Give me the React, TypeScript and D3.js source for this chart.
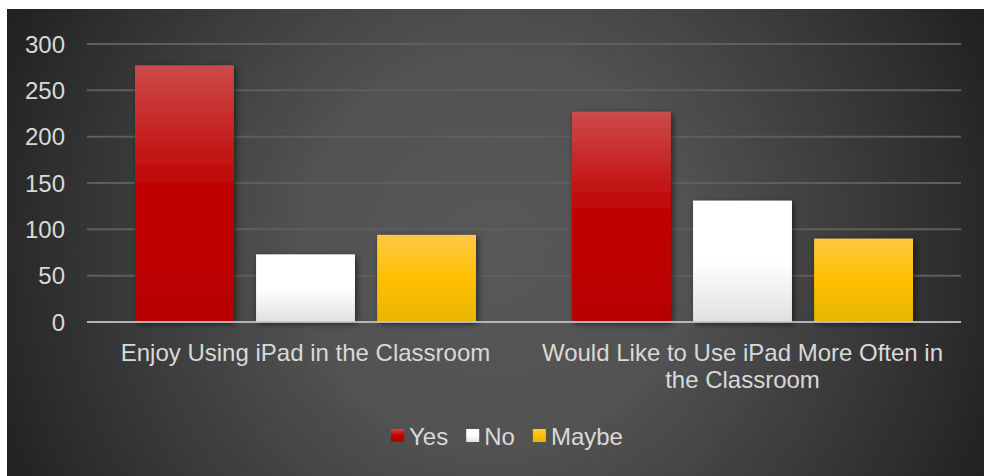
import React from "react";
import * as d3 from "d3";

const categories = ["Enjoy Using iPad in the Classroom", "Would Like to Use iPad More Often in the Classroom"];
const seriesNames = ["Yes", "No", "Maybe"];
const yesValues = [277, 227];
const noValues = [73, 131];
const maybeValues = [94, 90];
const yTicks = [0, 50, 100, 150, 200, 250, 300];

const W = 985;
const H = 476;
const FONT = "'Liberation Sans', Arial, sans-serif";
const FS = 24;

function measure(text: string, size = FS): number {
  const c = document.createElement("canvas").getContext("2d");
  if (!c) return text.length * size * 0.5;
  c.font = `${size}px 'Liberation Sans', Arial, sans-serif`;
  return c.measureText(text).width;
}

function wrap(text: string, maxW: number): string[] {
  const words = text.split(" ");
  const lines: string[] = [];
  let cur = "";
  for (const w of words) {
    const t = cur ? cur + " " + w : w;
    if (measure(t) > maxW && cur) {
      lines.push(cur);
      cur = w;
    } else cur = t;
  }
  if (cur) lines.push(cur);
  return lines;
}

export default function App() {
  const seriesValues = [yesValues, noValues, maybeValues];
  const x0 = d3.scaleBand<string>().domain(categories).range([87, 961]).padding(0);
  const x1 = d3
    .scaleBand<string>()
    .domain(seriesNames)
    .range([48, x0.bandwidth() - 48])
    .paddingInner(0.183)
    .paddingOuter(0);
  const y = d3.scaleLinear().domain([0, 300]).range([322, 44]);
  const fills = ["url(#gRed)", "url(#gWhite)", "url(#gYellow)"];

  // legend layout
  const sq = 13;
  const textGap = 5;
  const items = seriesNames.map((n) => ({ n, w: sq + textGap + measure(n) }));
  const gap = 18;
  const totalW = items.reduce((a, b) => a + b.w, 0) + gap * (items.length - 1);
  let lx = 507 - totalW / 2;
  const legendPos = items.map((it) => {
    const p = lx;
    lx += it.w + gap;
    return p;
  });

  return (
    <svg
      width={W}
      height={H}
      style={{ position: "absolute", left: 0, top: 0, display: "block" }}
      fontFamily={FONT}
    >
      <defs>
        <radialGradient id="bg" gradientUnits="userSpaceOnUse" cx={495} cy={250} r={560}>
          <stop offset="0" stopColor="#585858" />
          <stop offset="0.35" stopColor="#525252" />
          <stop offset="0.75" stopColor="#333333" />
          <stop offset="1" stopColor="#1e1e1e" />
        </radialGradient>
        <linearGradient id="gRed" x1="0" y1="0" x2="0" y2="1">
          <stop offset="0" stopColor="#cd4a4a" />
          <stop offset="0.5" stopColor="#c00000" />
          <stop offset="1" stopColor="#b80000" />
        </linearGradient>
        <linearGradient id="gWhite" x1="0" y1="0" x2="0" y2="1">
          <stop offset="0" stopColor="#ffffff" />
          <stop offset="0.5" stopColor="#ffffff" />
          <stop offset="1" stopColor="#e0e0e0" />
        </linearGradient>
        <linearGradient id="gYellow" x1="0" y1="0" x2="0" y2="1">
          <stop offset="0" stopColor="#ffc846" />
          <stop offset="0.5" stopColor="#ffc000" />
          <stop offset="1" stopColor="#e6b400" />
        </linearGradient>
        <filter id="shadow" x="-20%" y="-20%" width="140%" height="140%">
          <feDropShadow dx="2" dy="2" stdDeviation="3" floodColor="#000" floodOpacity="0.55" />
        </filter>
      </defs>
      <rect x={7} y={9} width={977} height={H - 9} fill="url(#bg)" />
      {yTicks.map((t) => (
        <g key={t}>
          {t !== 0 && (
            <line x1={87} x2={961} y1={y(t)} y2={y(t)} stroke="#5e5e5e" strokeWidth={2} />
          )}
          <text
            x={65}
            y={y(t)}
            textAnchor="end"
            dominantBaseline="central"
            fontSize={FS}
            fill="#d9d9d9"
          >
            {t}
          </text>
        </g>
      ))}
      {categories.map((c, ci) => (
        <g key={c} transform={`translate(${x0(c)},0)`}>
          {seriesNames.map((s, si) => {
            const v = seriesValues[si][ci];
            return (
              <rect
                key={s}
                x={x1(s)}
                y={y(v)}
                width={x1.bandwidth()}
                height={y(0) - y(v)}
                fill={fills[si]}
                filter="url(#shadow)"
              />
            );
          })}
        </g>
      ))}
      <line x1={87} x2={961} y1={y(0)} y2={y(0)} stroke="#c8c8c8" strokeOpacity={0.85} strokeWidth={2} />
      {categories.map((c) => {
        const lines = wrap(c, x0.bandwidth() - 20);
        const cx = (x0(c) as number) + x0.bandwidth() / 2;
        return (
          <text key={c} textAnchor="middle" fontSize={FS} fill="#d9d9d9">
            {lines.map((l, i) => (
              <tspan key={i} x={cx} y={352 + i * 27} dominantBaseline="central">
                {l}
              </tspan>
            ))}
          </text>
        );
      })}
      {seriesNames.map((n, i) => (
        <g key={n} transform={`translate(${legendPos[i]},0)`}>
          <rect x={0} y={429} width={sq} height={sq} fill={fills[i]} />
          <text x={sq + textGap} y={436} dominantBaseline="central" fontSize={FS} fill="#d9d9d9">
            {n}
          </text>
        </g>
      ))}
    </svg>
  );
}
